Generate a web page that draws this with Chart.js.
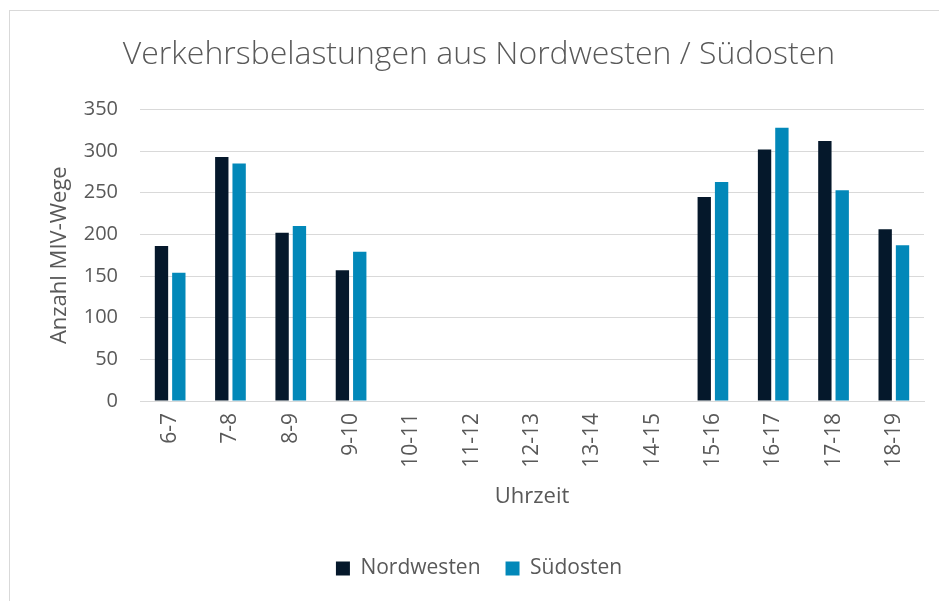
<!DOCTYPE html>
<html>
<head>
<meta charset="utf-8">
<script src="https://cdn.jsdelivr.net/npm/chart.js@4"></script>
<style>
  html, body { margin: 0; padding: 0; background: #fff; overflow: hidden; }
  #frame {
    position: absolute; left: 9px; top: 10px;
    width: 940px; height: 600px;
    border: 1px solid #d9d9d9;
    box-sizing: border-box;
  }
  #wrap { position: absolute; left: 9px; top: 10px; width: 940px; height: 591px; }
</style>
</head>
<body>
<div id="frame"></div>
<div id="wrap"><canvas id="verkehrChart"></canvas></div>
<script>
// Uhrzeit categories
const uhrzeit = ["6-7", "7-8", "8-9", "9-10", "10-11", "11-12", "12-13",
  "13-14", "14-15", "15-16", "16-17", "17-18", "18-19"];

// Anzahl MIV-Wege per direction (no count during the day)
const nordwesten = [186, 293, 202, 157, null, null, null, null, null, 245, 302, 312, 206];
const suedosten = [154, 285, 210, 179, null, null, null, null, null, 263, 328, 253, 187];

const yTicks = [0, 50, 100, 150, 200, 250, 300, 350];

const grey = "#595959";
const fontFamily = "'Open Sans', 'Noto Sans', sans-serif";

let ctx = document.getElementById("verkehrChart").getContext("2d");

const data = {
  labels: uhrzeit,
  datasets: [
    {
      label: "Nordwesten",
      data: nordwesten,
      backgroundColor: "#05182b",
      categoryPercentage: 0.575,
      barPercentage: 0.77,
    },
    {
      label: "Südosten",
      data: suedosten,
      backgroundColor: "#0288b9",
      categoryPercentage: 0.575,
      barPercentage: 0.77,
    },
  ],
};

const config = {
  type: "bar",
  data: data,
  options: {
    responsive: true,
    maintainAspectRatio: false,
    animation: false,
    layout: {
      padding: { left: 0, right: 0, top: 0, bottom: 12 },
    },
    plugins: {
      title: {
        display: true,
        text: "Verkehrsbelastungen aus Nordwesten / Südosten",
        color: grey,
        font: { family: fontFamily, size: 32, weight: 300 },
        padding: { top: 26, bottom: 35 },
      },
      legend: {
        position: "bottom",
        labels: {
          color: grey,
          font: { family: fontFamily, size: 21 },
          boxWidth: 14,
          boxHeight: 14,
          padding: 25,
        },
      },
      tooltip: { enabled: false },
    },
    scales: {
      x: {
        grid: { display: false, drawTicks: false },
        border: { display: true, color: "#d9d9d9", width: 1 },
        ticks: {
          color: grey,
          font: { family: fontFamily, size: 21 },
          minRotation: 90,
          maxRotation: 90,
          padding: 12,
          autoSkip: false,
        },
        title: {
          display: true,
          text: "Uhrzeit",
          color: grey,
          font: { family: fontFamily, size: 22 },
          padding: { top: 0, bottom: 23 },
        },
        afterFit: (scale) => { scale.height = 132; },
      },
      y: {
        min: 0,
        max: 350,
        afterBuildTicks: (scale) => {
          scale.ticks = yTicks.map((v) => ({ value: v }));
        },
        grid: { color: "#d9d9d9", lineWidth: 1, drawTicks: false },
        border: { display: false },
        ticks: {
          color: grey,
          font: { family: fontFamily, size: 20 },
          padding: 22,
        },
        title: {
          display: true,
          text: "Anzahl MIV-Wege",
          color: grey,
          font: { family: fontFamily, size: 22 },
          padding: { top: 38, bottom: 0 },
        },
        afterFit: (scale) => { scale.width = 131; },
      },
      // empty space right of the plot
      yRight: {
        position: "right",
        grid: { display: false },
        border: { display: false },
        ticks: { display: false },
        afterFit: (scale) => { scale.width = 25; },
      },
    },
  },
};

let myChart = new Chart(ctx, config);
</script>
</body>
</html>
